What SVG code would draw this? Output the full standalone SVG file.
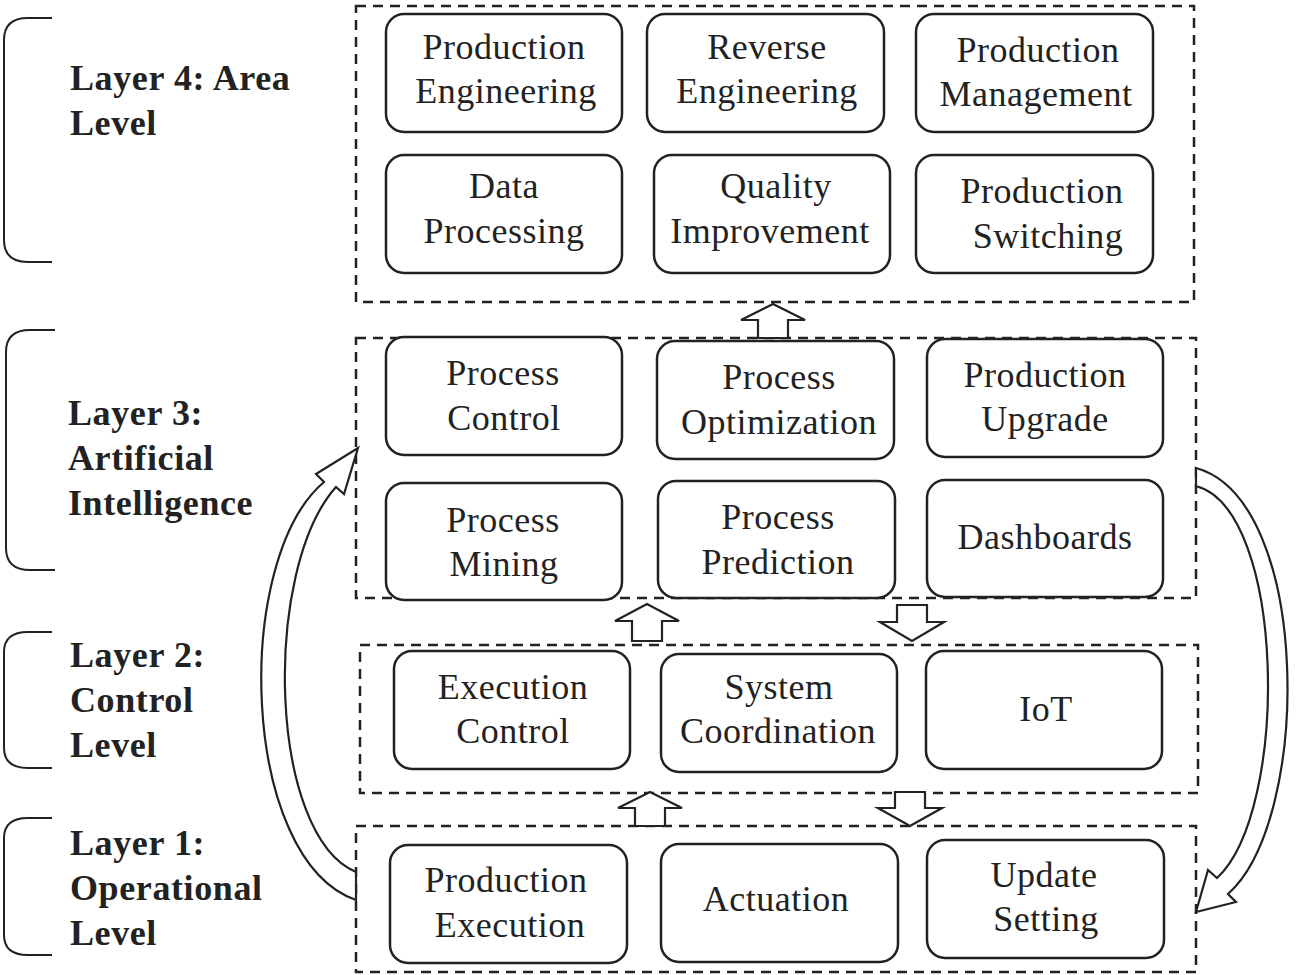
<svg xmlns="http://www.w3.org/2000/svg" width="1304" height="975" viewBox="0 0 1304 975">
<style>
.layer{fill:none;stroke:#222;stroke-width:2.5;stroke-dasharray:10 7}
.node rect{fill:#fff;stroke:#222;stroke-width:2.5}
.node text{font-family:"Liberation Serif",serif;font-size:36px;letter-spacing:0.5px;fill:#222;text-anchor:middle}
.lab{font-family:"Liberation Serif",serif;font-size:36px;letter-spacing:0.6px;font-weight:bold;fill:#222}
.br{fill:none;stroke:#222;stroke-width:2}
.arr{fill:#fff;stroke:#222;stroke-width:2.2;stroke-linejoin:miter}
</style>
<rect width="1304" height="975" fill="#fff"/>
<g id="brackets">
<path class="br" d="M52,18 L28,18 Q4,18 4,40 L4,240 Q4,262 28,262 L52,262"/>
<path class="br" d="M55,330 L30,330 Q6,330 6,352 L6,548 Q6,570 30,570 L55,570"/>
<path class="br" d="M52,632 L28,632 Q4,632 4,652 L4,748 Q4,768 28,768 L52,768"/>
<path class="br" d="M52,818 L28,818 Q4,818 4,838 L4,935 Q4,955 28,955 L52,955"/>
</g>
<g id="labels">
<text class="lab" x="70" y="90">Layer 4: Area</text><text class="lab" x="70" y="135">Level</text>
<text class="lab" x="68" y="425">Layer 3:</text><text class="lab" x="68" y="470">Artificial</text><text class="lab" x="68" y="515">Intelligence</text>
<text class="lab" x="70" y="667">Layer 2:</text><text class="lab" x="70" y="712">Control</text><text class="lab" x="70" y="757">Level</text>
<text class="lab" x="70" y="855">Layer 1:</text><text class="lab" x="70" y="900">Operational</text><text class="lab" x="70" y="945">Level</text>
</g>
<g id="layers">
<rect class="layer" x="356" y="6" width="838" height="296"/>
<rect class="layer" x="356" y="338" width="840" height="260"/>
<rect class="layer" x="360" y="645" width="838" height="148"/>
<rect class="layer" x="356" y="826" width="840" height="146"/>
</g>
<g id="n1" class="node"><rect x="386" y="14" width="236" height="118" rx="18"/><text x="504" y="59">Production</text><text x="506" y="103">Engineering</text></g>
<g id="n2" class="node"><rect x="647" y="14" width="237" height="118" rx="18"/><text x="767" y="59">Reverse</text><text x="767" y="103">Engineering</text></g>
<g id="n3" class="node"><rect x="916" y="14" width="237" height="118" rx="18"/><text x="1038" y="62">Production</text><text x="1036" y="106">Management</text></g>
<g id="n4" class="node"><rect x="386" y="155" width="236" height="118" rx="18"/><text x="504" y="198">Data</text><text x="504" y="243">Processing</text></g>
<g id="n5" class="node"><rect x="654" y="155" width="236" height="118" rx="18"/><text x="776" y="198">Quality</text><text x="770" y="243">Improvement</text></g>
<g id="n6" class="node"><rect x="916" y="155" width="237" height="118" rx="18"/><text x="1042" y="203">Production</text><text x="1048" y="248">Switching</text></g>
<g id="n7" class="node"><rect x="386" y="337" width="236" height="118" rx="18"/><text x="503" y="385">Process</text><text x="504" y="430">Control</text></g>
<g id="n8" class="node"><rect x="657" y="341" width="237" height="118" rx="18"/><text x="779" y="389">Process</text><text x="779" y="434">Optimization</text></g>
<g id="n9" class="node"><rect x="927" y="339" width="236" height="118" rx="18"/><text x="1045" y="387">Production</text><text x="1045" y="431">Upgrade</text></g>
<g id="n10" class="node"><rect x="386" y="483" width="236" height="117" rx="18"/><text x="503" y="532">Process</text><text x="504" y="576">Mining</text></g>
<g id="n11" class="node"><rect x="658" y="481" width="237" height="117" rx="18"/><text x="778" y="529">Process</text><text x="778" y="574">Prediction</text></g>
<g id="n12" class="node"><rect x="927" y="480" width="236" height="117" rx="18"/><text x="1045" y="549">Dashboards</text></g>
<g id="n13" class="node"><rect x="394" y="651" width="236" height="118" rx="18"/><text x="513" y="699">Execution</text><text x="513" y="743">Control</text></g>
<g id="n14" class="node"><rect x="661" y="654" width="236" height="118" rx="18"/><text x="779" y="699">System</text><text x="778" y="743">Coordination</text></g>
<g id="n15" class="node"><rect x="926" y="651" width="236" height="118" rx="18"/><text x="1046" y="721">IoT</text></g>
<g id="n16" class="node"><rect x="390" y="845" width="237" height="118" rx="18"/><text x="506" y="892">Production</text><text x="510" y="937">Execution</text></g>
<g id="n17" class="node"><rect x="661" y="844" width="237" height="118" rx="18"/><text x="776" y="911">Actuation</text></g>
<g id="n18" class="node"><rect x="927" y="840" width="237" height="118" rx="18"/><text x="1044" y="887">Update</text><text x="1046" y="931">Setting</text></g>
<g id="connectors">
<polygon class="arr" points="773,304 805,320 788,320 788,338 758,338 758,320 741,320"/>
<polygon class="arr" points="647,604 679,621 662,621 662,641 632,641 632,621 615,621"/>
<polygon class="arr" points="897,605 927,605 927,622 944,622 912,641 880,622 897,622"/>
<polygon class="arr" points="650,792 682,808 665,808 665,826 635,826 635,808 618,808"/>
<polygon class="arr" points="895,792 925,792 925,808 942,808 910,826 878,808 895,808"/>
<path class="arr" d="M356,900 C240,860 232,560 324,482 L316,474 L358,448 L344,494 L336,487 C262,570 268,835 356,872 Z"/>
<path class="arr" d="M1196,468 C1312,500 1312,820 1228,894 L1236,902 L1196,912 L1208,870 L1217,878 C1290,810 1286,510 1196,486 Z"/>
</g>
</svg>
